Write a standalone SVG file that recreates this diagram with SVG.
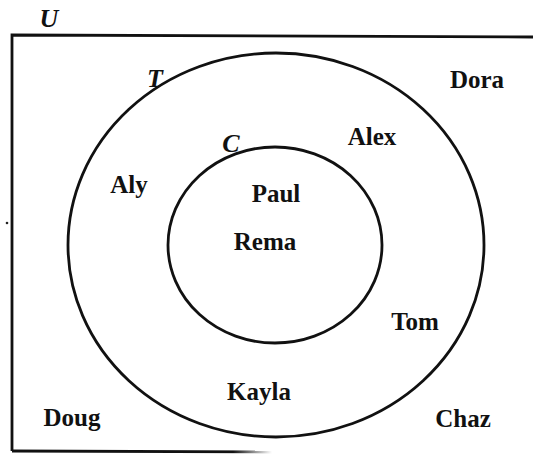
<svg xmlns="http://www.w3.org/2000/svg" width="533" height="456" viewBox="0 0 533 456">
<style>
.ln{fill:none;stroke:#111;stroke-width:2.8}
.lb{font-family:"Liberation Serif","Times New Roman",serif;font-weight:bold;font-size:25px;fill:#111;text-anchor:middle}
.st{font-family:"Liberation Serif","Times New Roman",serif;font-weight:bold;font-style:italic;font-size:26px;fill:#111;text-anchor:middle}
</style>
<defs>
<linearGradient id="fade" x1="12" y1="0" x2="272" y2="0" gradientUnits="userSpaceOnUse">
<stop offset="0" stop-color="#111"/>
<stop offset="0.85" stop-color="#111"/>
<stop offset="1" stop-color="#111" stop-opacity="0"/>
</linearGradient>
</defs>
<rect width="533" height="456" fill="#fff"/>
<g id="U">
<path class="ln" d="M533,37 L12,35 L12,451"/>
<path d="M12,451 L272,452" fill="none" stroke="url(#fade)" stroke-width="2.8"/>
<text class="st" x="49" y="27">U</text>
</g>
<g id="T">
<ellipse class="ln" cx="276" cy="245" rx="208" ry="192"/>
<text class="st" x="155" y="87">T</text>
</g>
<g id="C">
<ellipse class="ln" cx="275" cy="245" rx="107" ry="98"/>
<text class="st" x="231" y="152">C</text>
</g>
<g id="connectors"></g>
<g id="labels">
<text class="lb" x="477" y="88">Dora</text>
<text class="lb" x="372" y="145">Alex</text>
<text class="lb" x="129" y="193">Aly</text>
<text class="lb" x="276" y="202">Paul</text>
<text class="lb" x="265" y="250">Rema</text>
<text class="lb" x="415" y="330">Tom</text>
<text class="lb" x="259" y="400">Kayla</text>
<text class="lb" x="72" y="426">Doug</text>
<text class="lb" x="463" y="427">Chaz</text>
</g>
<circle cx="7" cy="223" r="1.3" fill="#222"/>
</svg>
